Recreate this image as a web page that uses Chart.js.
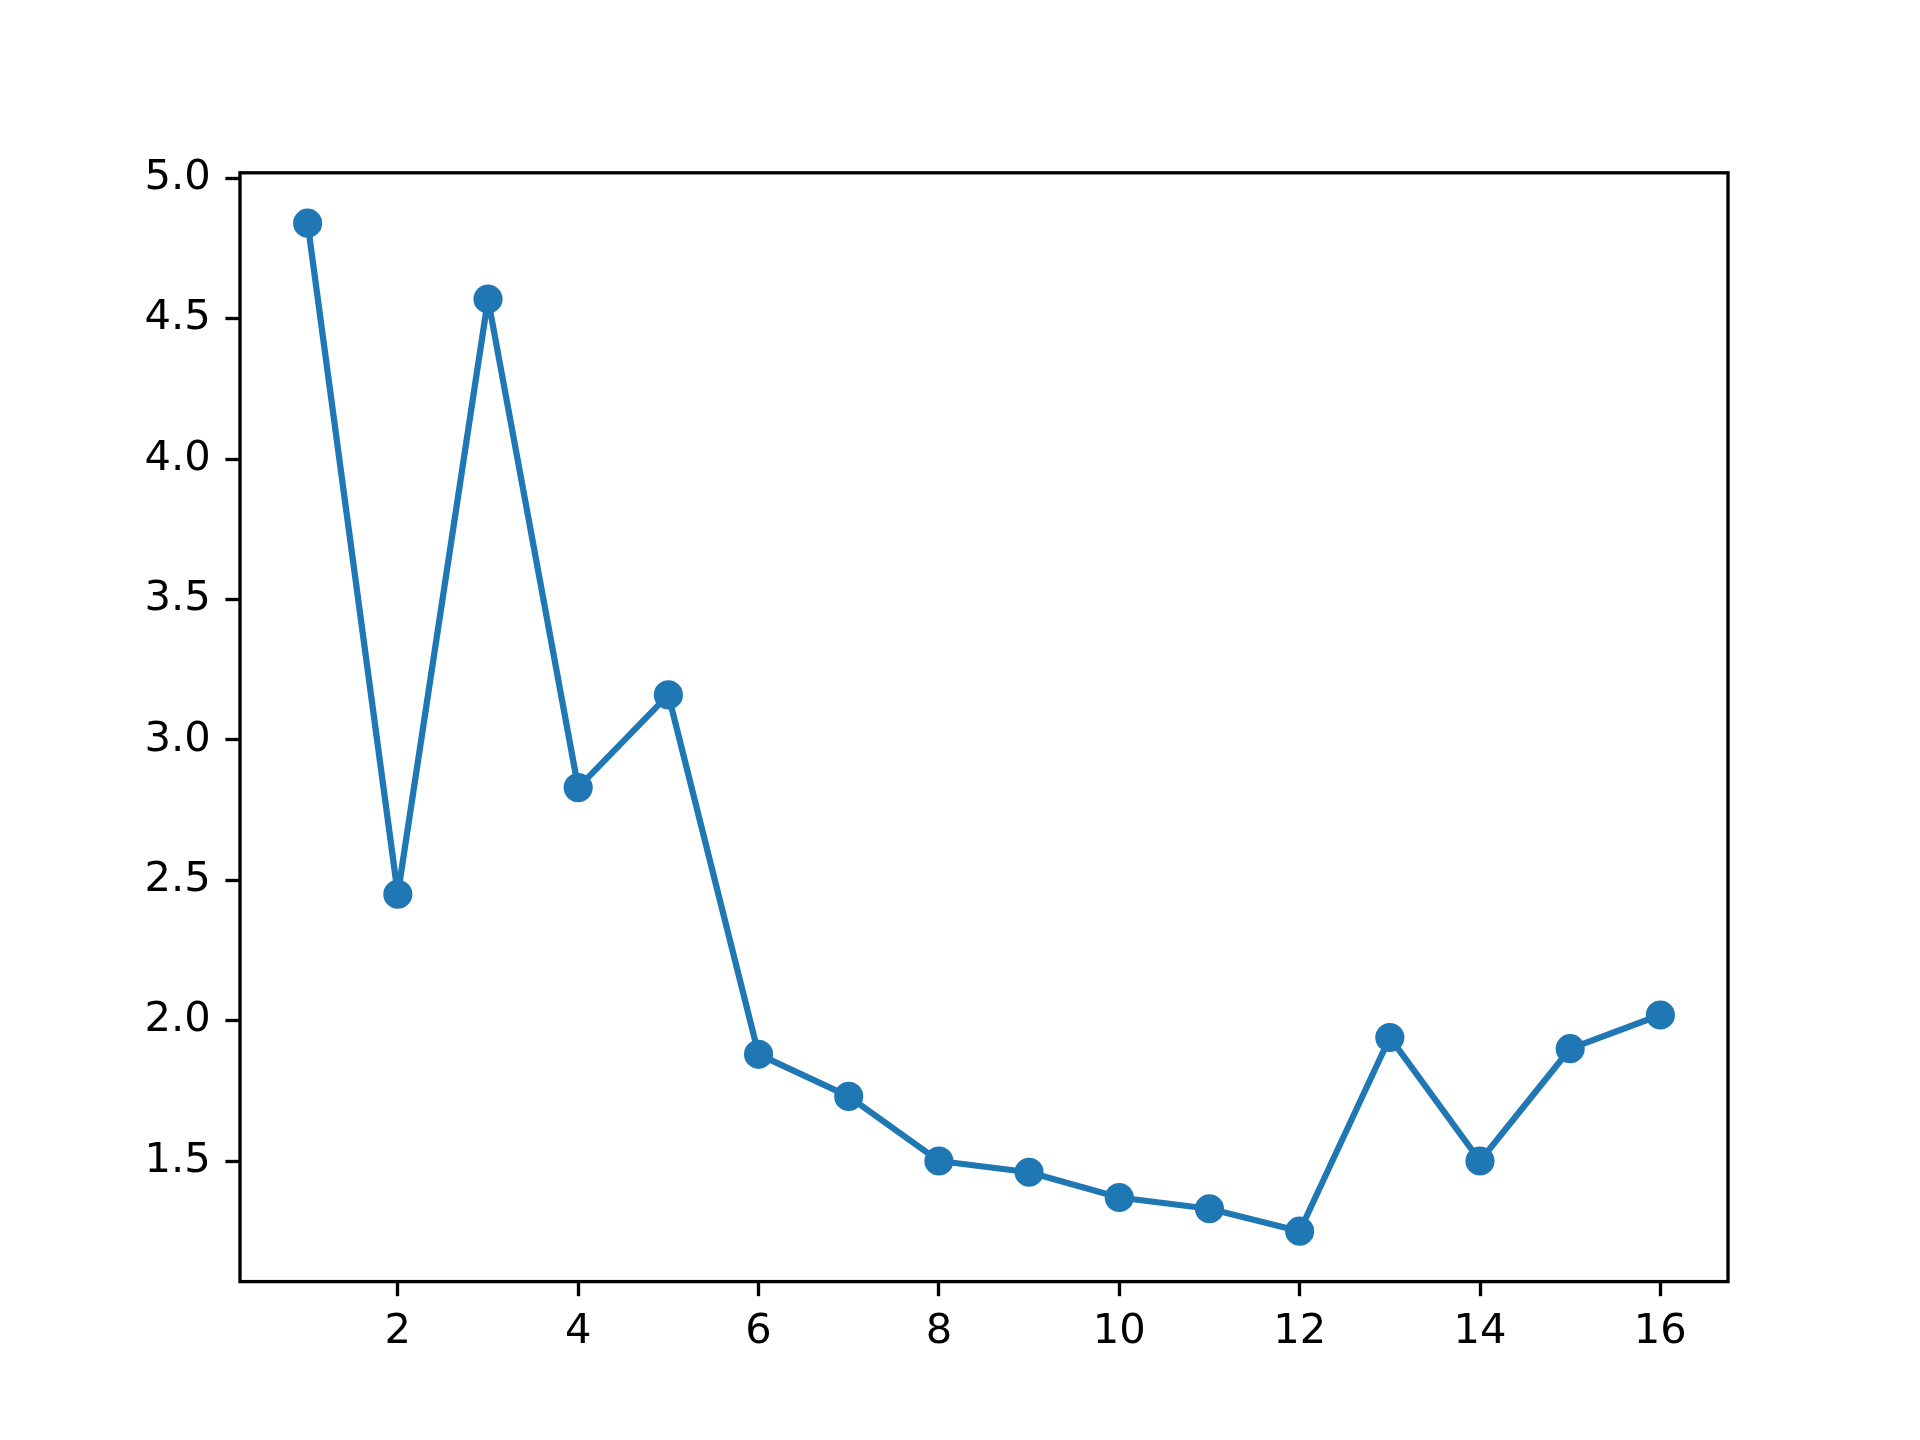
<!DOCTYPE html>
<html>
<head>
<meta charset="utf-8">
<script src="https://cdn.jsdelivr.net/npm/chart.js@4"></script>
<style>
  html, body { margin: 0; padding: 0; background: #fff; }
  canvas { display: block; }
</style>
</head>
<body>
<canvas id="myChart" width="1920" height="1440"></canvas>
<script>
// data
const xs = [1, 2, 3, 4, 5, 6, 7, 8, 9, 10, 11, 12, 13, 14, 15, 16]
const ys = [4.84, 2.45, 4.57, 2.83, 3.16, 1.88, 1.73, 1.50, 1.46, 1.37, 1.33, 1.25, 1.94, 1.50, 1.90, 2.02]
const xTicks = [2, 4, 6, 8, 10, 12, 14, 16]
const yTicks = [1.5, 2.0, 2.5, 3.0, 3.5, 4.0, 4.5, 5.0]

// matplotlib style auto limits (5% margin)
let xmin = Math.min(...xs), xmax = Math.max(...xs)
let ymin = Math.min(...ys), ymax = Math.max(...ys)
let xm = (xmax - xmin) * 0.05
let ym = (ymax - ymin) * 0.05

const pt = 300 / 72
const blue = '#1f77b4'
const font = { family: 'DejaVu Sans', size: 10 * pt }

const frame = {
  id: 'frame',
  afterDraw(chart) {
    const { ctx, chartArea: a } = chart
    ctx.save()
    ctx.strokeStyle = '#000'
    ctx.lineWidth = 0.8 * pt
    ctx.strokeRect(a.left, a.top, a.right - a.left, a.bottom - a.top)
    ctx.restore()
  }
}

const ctx = document.getElementById('myChart')

new Chart(ctx, {
  type: 'line',
  data: {
    datasets: [{
      data: xs.map((x, i) => ({ x: x, y: ys[i] })),
      borderColor: blue,
      backgroundColor: blue,
      borderWidth: 1.5 * pt,
      borderJoinStyle: 'round',
      borderCapStyle: 'round',
      pointRadius: 3 * pt,
      pointBorderWidth: 1 * pt,
      pointBorderColor: blue,
      pointBackgroundColor: blue,
      tension: 0,
      clip: false
    }]
  },
  options: {
    responsive: false,
    animation: false,
    events: [],
    layout: {
      padding: { left: 40, right: 192, top: 172.8, bottom: 38.4 }
    },
    plugins: {
      legend: { display: false },
      tooltip: { enabled: false }
    },
    scales: {
      x: {
        type: 'linear',
        min: xmin - xm,
        max: xmax + xm,
        afterFit: s => { s.height = 120 },
        afterBuildTicks: s => { s.ticks = xTicks.map(v => ({ value: v })) },
        grid: {
          drawOnChartArea: false,
          drawTicks: true,
          tickLength: 3.5 * pt,
          tickWidth: 0.8 * pt,
          tickColor: '#000'
        },
        border: { display: false },
        ticks: {
          color: '#000',
          font: font,
          padding: 3.5 * pt - 4,
          maxRotation: 0,
          autoSkip: false,
          callback: v => String(v)
        }
      },
      y: {
        type: 'linear',
        min: ymin - ym,
        max: ymax + ym,
        afterFit: s => { s.width = 200 },
        afterBuildTicks: s => { s.ticks = yTicks.map(v => ({ value: v })) },
        grid: {
          drawOnChartArea: false,
          drawTicks: true,
          tickLength: 3.5 * pt,
          tickWidth: 0.8 * pt,
          tickColor: '#000'
        },
        border: { display: false },
        ticks: {
          color: '#000',
          font: font,
          padding: 3.5 * pt,
          autoSkip: false,
          callback: v => v.toFixed(1)
        }
      }
    }
  },
  plugins: [frame]
});
</script>
</body>
</html>
